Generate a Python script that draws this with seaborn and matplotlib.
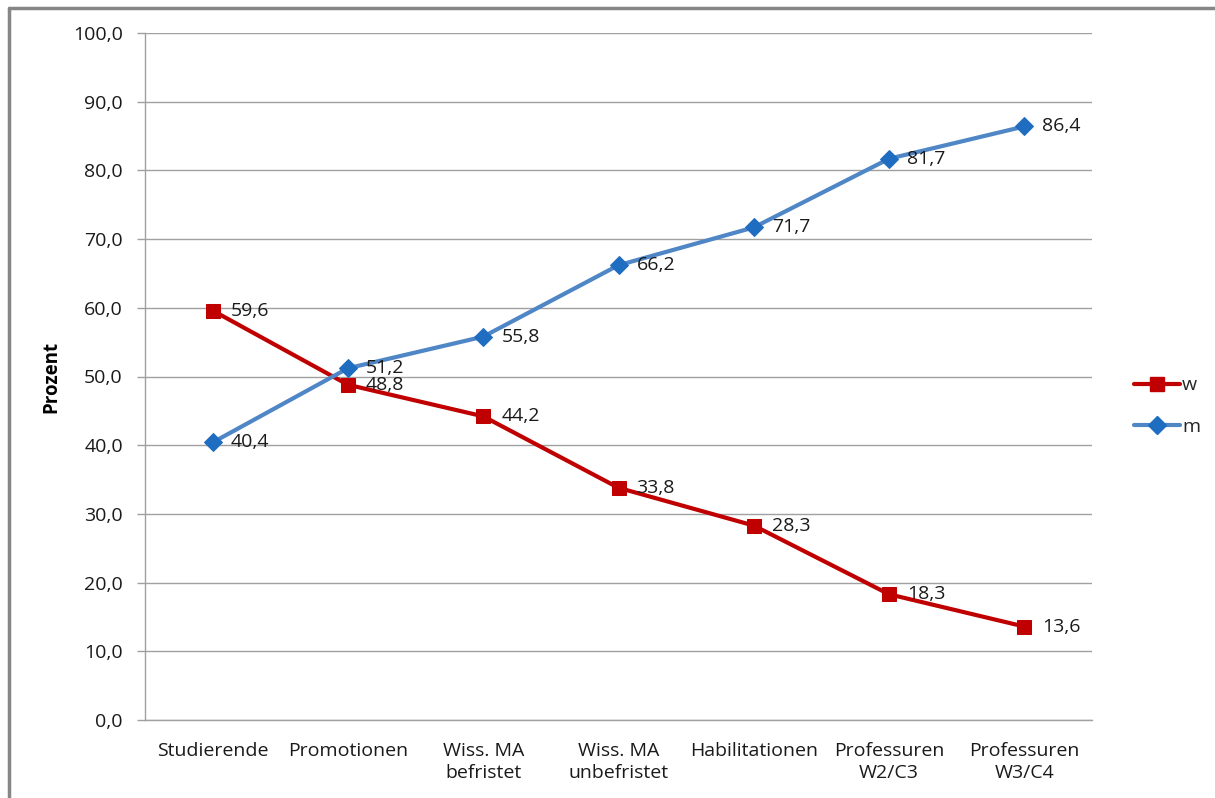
import matplotlib
matplotlib.use("Agg")
import matplotlib.pyplot as plt
import seaborn as sns
import pandas as pd
from matplotlib.lines import Line2D

categories = ["Studierende", "Promotionen", "Wiss. MA\nbefristet", "Wiss. MA\nunbefristet",
              "Habilitationen", "Professuren\nW2/C3", "Professuren\nW3/C4"]
w_values = [59.6, 48.8, 44.2, 33.8, 28.3, 18.3, 13.6]
m_values = [40.4, 51.2, 55.8, 66.2, 71.7, 81.7, 86.4]
y_ticks = [0, 10, 20, 30, 40, 50, 60, 70, 80, 90, 100]

sns.set_theme(style="white")
FONT = ["Open Sans", "DejaVu Sans"]
plt.rcParams["font.family"] = FONT

W, H, DPI = 1215, 798, 100
fig = plt.figure(figsize=(W / DPI, H / DPI), dpi=DPI)
ax = fig.add_axes([145 / W, 1 - 720 / H, (1092 - 145) / W, (720 - 33) / H])

df = pd.DataFrame({
    "cat": list(range(len(categories))) * 2,
    "val": w_values + m_values,
    "series": ["w"] * len(w_values) + ["m"] * len(m_values),
})

red = "#C00000"
blue_line = "#4F86C6"
blue_mark = "#1F6DC1"
txt = "#1a1a1a"

sns.lineplot(data=df[df.series == "w"], x="cat", y="val", ax=ax, color=red, lw=3,
             marker="s", markersize=9.5, markeredgecolor=red, markerfacecolor=red, legend=False)
sns.lineplot(data=df[df.series == "m"], x="cat", y="val", ax=ax, color=blue_line, lw=3,
             marker="D", markersize=9.5, markeredgecolor=blue_mark, markerfacecolor=blue_mark, legend=False)

fs = 14
for i, v in enumerate(w_values):
    ax.annotate(f"{v:.1f}".replace(".", ","), (i, v), xytext=(13, 0), textcoords="offset points",
                va="center", ha="left", fontsize=fs, color=txt)
for i, v in enumerate(m_values):
    ax.annotate(f"{v:.1f}".replace(".", ","), (i, v), xytext=(13, 0), textcoords="offset points",
                va="center", ha="left", fontsize=fs, color=txt)

ax.set_xlim(-0.5, len(categories) - 0.5)
ax.set_ylim(0, 100)
ax.set_yticks(y_ticks)
ax.set_yticklabels([f"{t:.1f}".replace(".", ",") for t in y_ticks], fontsize=fs, color=txt)
ax.set_xticks(range(len(categories)))
ax.set_xticklabels(categories, fontsize=fs, color=txt, linespacing=1.25)
ax.tick_params(axis="x", length=0, pad=16)
ax.tick_params(axis="y", length=6, width=1, color="#A0A0A0", left=True, pad=10)
ax.grid(axis="y", color="#A0A0A0", lw=1)
ax.grid(axis="x", visible=False)
for s in ["top", "right"]:
    ax.spines[s].set_visible(False)
for s in ["left", "bottom"]:
    ax.spines[s].set_color("#A0A0A0")
    ax.spines[s].set_linewidth(1)
ax.set_xlabel("")
ax.set_ylabel("Prozent", fontsize=13.5, fontweight="bold", color="black")
ax.yaxis.set_label_coords((61 - 145) / (1092 - 145), 0.5)

handles = [
    Line2D([], [], color=red, lw=3, marker="s", markersize=9.5, markerfacecolor=red, markeredgecolor=red),
    Line2D([], [], color=blue_line, lw=3, marker="D", markersize=9.5, markerfacecolor=blue_mark, markeredgecolor=blue_mark),
]
fig.legend(handles, ["w", "m"], loc="center left", bbox_to_anchor=(1116 / W, 1 - 406 / H),
           frameon=False, fontsize=fs, handlelength=2.4, handletextpad=0.1, labelspacing=1.2)

# outer chart border (top and left visible)
fig.add_artist(Line2D([9 / W, 1], [1 - 8 / H, 1 - 8 / H], color="#868686", lw=2.5, transform=fig.transFigure))
fig.add_artist(Line2D([9 / W, 9 / W], [0, 1 - 8 / H], color="#868686", lw=2.5, transform=fig.transFigure))

fig.savefig("out.png", dpi=DPI, facecolor="white")
